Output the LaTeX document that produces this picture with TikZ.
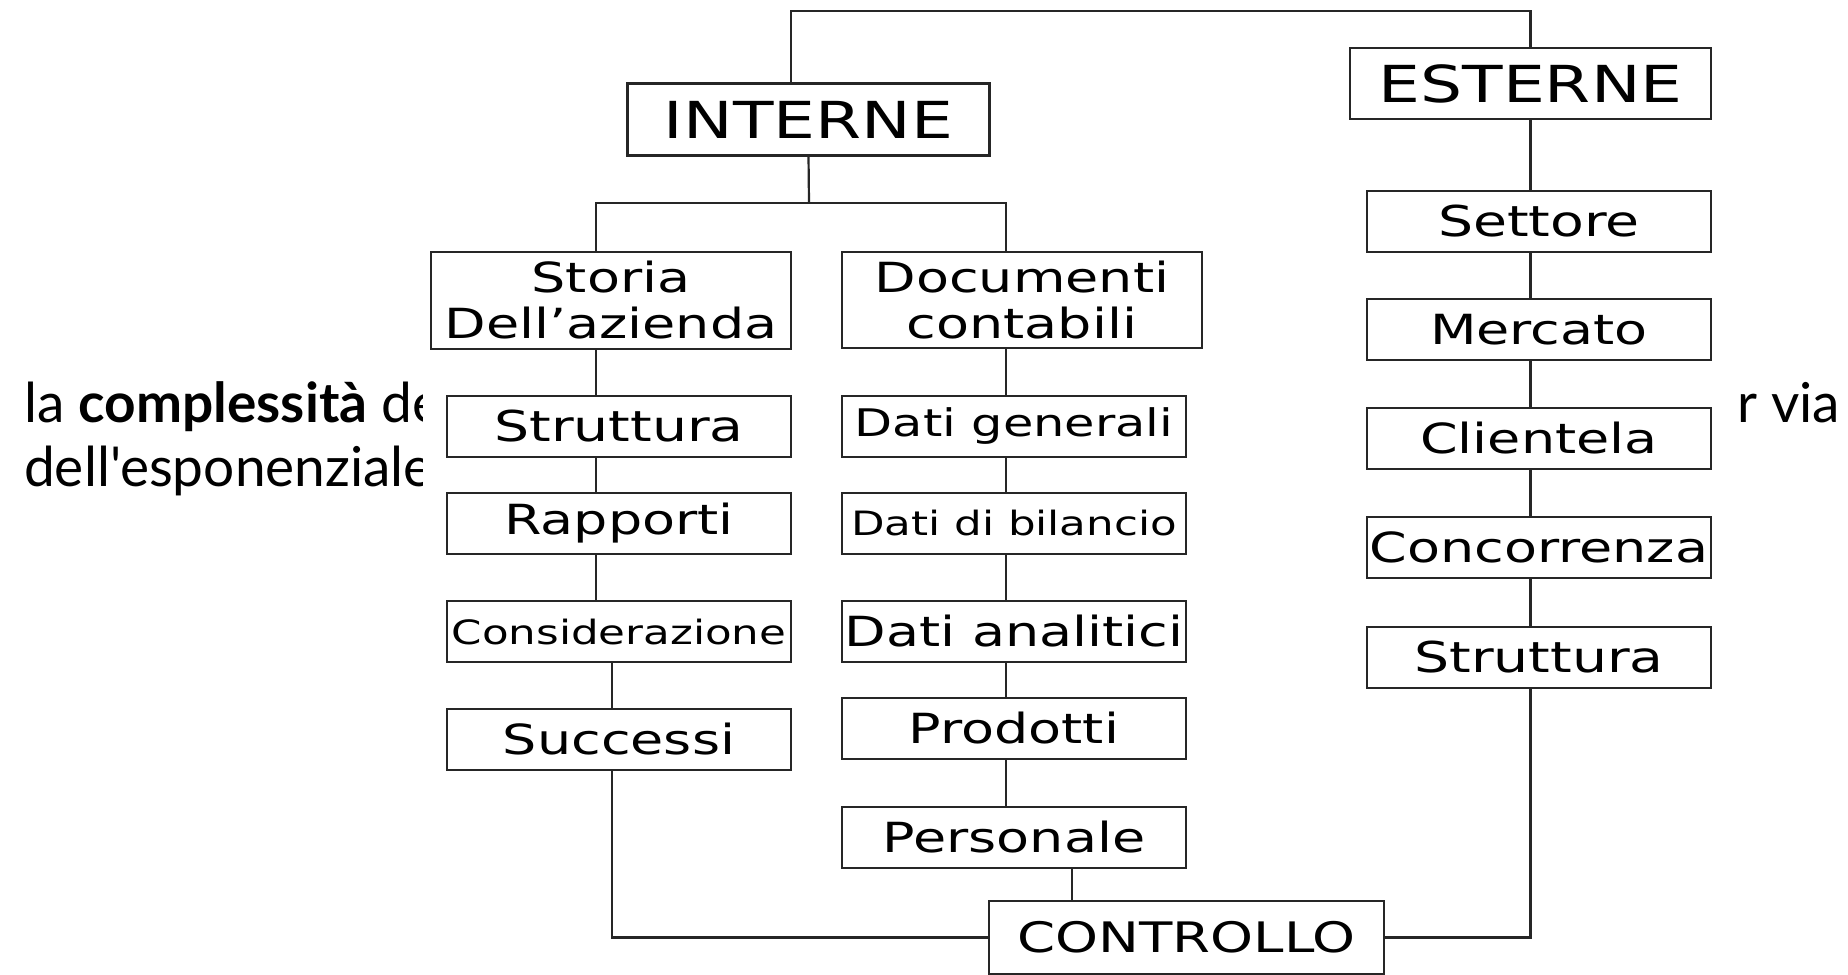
\documentclass[tikz,border=0pt]{standalone}
\usepackage{fontspec}
\newfontfamily\voceFont[FakeStretch=1.3]{DejaVu Sans}
\newfontfamily\testoFont{Lato}
\usetikzlibrary{
    positioning, % posizionamento relativo dei nodi (es: below=of)
    backgrounds  % connettori e testo dietro le caselle
}

\begin{document}
\begin{tikzpicture}[x=1bp, y=-1bp]

    % --- Stili ---
    \tikzset{
        % caselle dello schema
        voce/.style={
            draw=black!85,
            line width=2.2bp,
            fill=white,
            inner sep=0pt,
            outer sep=0pt,
            minimum width=344bp,
            minimum height=61bp,
            align=center,
            font=\voceFont\fontsize{41.5bp}{46bp}\selectfont
        },
        % caselle dei titoli (INTERNE, ESTERNE, CONTROLLO)
        titolo/.style={
            voce,
            minimum width=362bp,
            minimum height=72bp,
            font=\voceFont\fontsize{51bp}{58bp}\selectfont
        },
        % linee di collegamento
        linea/.style={
            draw=black!85,
            line width=2.2bp
        },
        % testo della slide che sta dietro lo schema
        testo/.style={
            anchor=base west,
            inner sep=0pt,
            font=\testoFont\fontsize{55bp}{64bp}\selectfont
        }
    }

    \useasboundingbox (0,0) rectangle (1848,974);

    % --- Titoli ---
    \node[titolo] (interne) at (808.5,119.5) {INTERNE};
    \node[titolo, minimum width=361bp, minimum height=71bp] (esterne) at (1530.5,83.5) {ESTERNE};
    \node[titolo, minimum width=395bp, minimum height=73bp,
          font=\voceFont\fontsize{42bp}{46bp}\selectfont] (controllo) at (1186.5,937.5) {CONTROLLO};

    % --- Colonna sinistra ---
    \node[voce, minimum width=360bp, minimum height=97bp] (storia) at (611,300.5) {Storia\\Dell’azienda};
    \node[voce, below=47bp of storia.south east, anchor=north east,
          font=\voceFont\fontsize{42.5bp}{46bp}\selectfont] (struttura) {Struttura};
    \node[voce, below=36bp of struttura] (rapporti) {Rapporti};
    \node[voce, below=47bp of rapporti,
          font=\voceFont\fontsize{33.5bp}{40bp}\selectfont] (considerazione) {Considerazione};
    \node[voce, below=47bp of considerazione] (successi) {Successi};

    % --- Colonna centrale ---
    \node[voce, minimum width=360bp, minimum height=96bp] (documenti) at (1022,300) {Documenti\\contabili};
    \node[voce, below=48bp of documenti.south west, anchor=north west,
          font=\voceFont\fontsize{38bp}{46bp}\selectfont] (generali) {Dati generali};
    \node[voce, below=36bp of generali,
          font=\voceFont\fontsize{33.5bp}{40bp}\selectfont] (bilancio) {Dati di bilancio};
    \node[voce, below=47bp of bilancio] (analitici) {Dati analitici};
    \node[voce, below=36bp of analitici] (prodotti) {Prodotti};
    \node[voce, below=48bp of prodotti] (personale) {Personale};

    % --- Colonna destra ---
    \node[voce, below=72bp of esterne.south east, anchor=north east,
          font=\voceFont\fontsize{42.5bp}{46bp}\selectfont] (settore) {Settore};
    \node[voce, below=47bp of settore] (mercato) {Mercato};
    \node[voce, below=48bp of mercato] (clientela) {Clientela};
    \node[voce, below=48bp of clientela] (concorrenza) {Concorrenza};
    \node[voce, below=49bp of concorrenza,
          font=\voceFont\fontsize{42.5bp}{46bp}\selectfont] (strutturaE) {Struttura};

    % --- Punti di passaggio delle linee ---
    \coordinate (cima) at (1160,11);
    \coordinate (giunzione) at (809,203);
    \coordinate (lineaA) at (596,0);
    \coordinate (lineaB) at (612,0);
    \coordinate (lineaC) at (1006,0);
    \coordinate (lineaD) at (1072,0);

    \begin{scope}[on background layer]
        % testo della slide, coperto in parte dallo schema
        \node[testo] (riga1) at (24,422) {la \textbf{complessità} de};
        \node[testo] (riga1coda) at (1737,422) {r via};
        \node[testo] (riga2) at (24,486) {dell'esponenziale};
        \fill[white] (423,0) rectangle (1730,974);

        % --- Connettori ---
        \draw[linea] (interne.north -| storia.east) |- (cima) -| (esterne.north);
        \draw[linea] (interne.south) -- (giunzione);
        \draw[linea] (storia.north -| lineaA) |- (giunzione) -| (documenti.north -| lineaC);
        \draw[linea] (storia.south -| lineaA) -- (considerazione.north -| lineaA);
        \draw[linea] (considerazione.south -| lineaB) |- (controllo.west);
        \draw[linea] (documenti.south -| lineaC) -- (personale.north -| lineaC);
        \draw[linea] (personale.south -| lineaD) -- (controllo.north -| lineaD);
        \draw[linea] (controllo.east) -| (esterne.south);
    \end{scope}

\end{tikzpicture}
\end{document}
